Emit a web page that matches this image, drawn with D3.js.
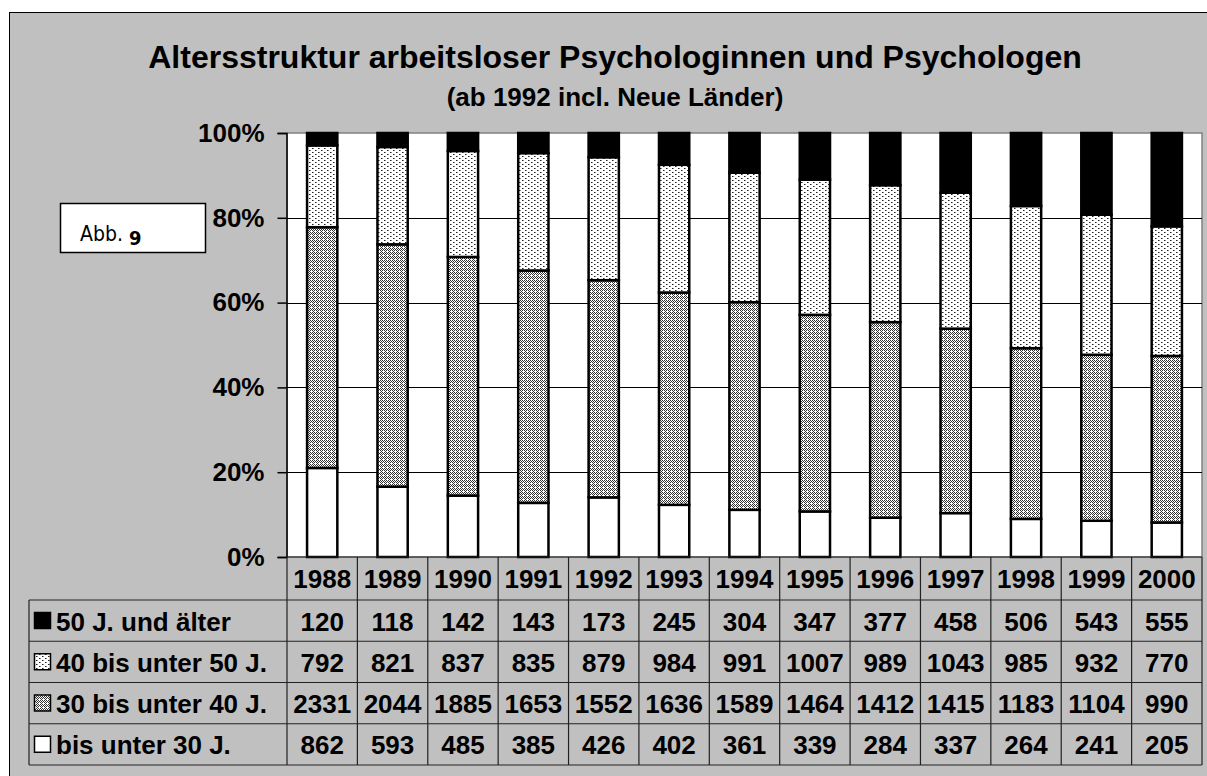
<!DOCTYPE html>
<html>
<head>
<meta charset="utf-8">
<script src="https://cdn.jsdelivr.net/npm/d3@7"></script>
<style>
  html, body { margin: 0; padding: 0; background: #fff; }
  svg { display: block; font-family: "Liberation Sans", Arial, sans-serif; }
</style>
</head>
<body>
<svg id="chart" width="1207" height="776"></svg>
<script>
// ---- data ----
var years = ['1988','1989','1990','1991','1992','1993','1994','1995','1996','1997','1998','1999','2000'];
var seriesNames = ['bis unter 30 J.', '30 bis unter 40 J.', '40 bis unter 50 J.', '50 J. und älter'];
var under30   = [862, 593, 485, 385, 426, 402, 361, 339, 284, 337, 264, 241, 205];
var age30to40 = [2331, 2044, 1885, 1653, 1552, 1636, 1589, 1464, 1412, 1415, 1183, 1104, 990];
var age40to50 = [792, 821, 837, 835, 879, 984, 991, 1007, 989, 1043, 985, 932, 770];
var age50plus = [120, 118, 142, 143, 173, 245, 304, 347, 377, 458, 506, 543, 555];
var yTicks = [0, 0.2, 0.4, 0.6, 0.8, 1];
var titleText = 'Altersstruktur arbeitsloser Psychologinnen und Psychologen';
var subtitleText = '(ab 1992 incl. Neue Länder)';

(function () {
  'use strict';

  var svg = d3.select('#chart');
  var seriesValues = [under30, age30to40, age40to50, age50plus];
  var fills = ['#fff', 'url(#dense)', 'url(#light)', '#000'];

  /*====================================
  Patterns
  ======================================*/
  var defs = svg.append('defs');
  var light = defs.append('pattern').attr('id', 'light')
    .attr('patternUnits', 'userSpaceOnUse').attr('width', 6).attr('height', 4);
  light.append('rect').attr('width', 6).attr('height', 4).attr('fill', '#fff');
  [[0, 0], [3, 2], [1, 0], [4, 2]].forEach(function (p, i) {
    light.append('rect').attr('x', p[0]).attr('y', p[1]).attr('width', 1).attr('height', 1)
      .attr('fill', i < 2 ? '#222' : '#888');
  });
  var dense = defs.append('pattern').attr('id', 'dense')
    .attr('patternUnits', 'userSpaceOnUse').attr('width', 4).attr('height', 4);
  dense.append('rect').attr('width', 4).attr('height', 4).attr('fill', '#fff');
  [[0, 0], [2, 0], [1, 1], [3, 1], [0, 2], [2, 2], [1, 3]].forEach(function (p) {
    dense.append('rect').attr('x', p[0]).attr('y', p[1]).attr('width', 1).attr('height', 1).attr('fill', '#333');
  });

  /*====================================
  Frame + titles
  ======================================*/
  svg.append('rect').attr('x', 9.5).attr('y', 12.5).attr('width', 1220).attr('height', 780)
    .attr('fill', '#c0c0c0').attr('stroke', '#000').attr('stroke-width', 1);

  svg.append('text').attr('x', 615).attr('y', 68).attr('text-anchor', 'middle')
    .attr('font-size', 32).attr('font-weight', 'bold').text(titleText);
  svg.append('text').attr('x', 615).attr('y', 106).attr('text-anchor', 'middle')
    .attr('font-size', 26).attr('font-weight', 'bold').text(subtitleText);

  /*====================================
  Scales
  ======================================*/
  var left = 287, right = 1202, top = 133, bottom = 557;
  var x = d3.scaleBand().domain(years).range([left, right]).padding(0);
  var y = d3.scaleLinear().domain([0, 1]).range([bottom, top]);
  var barW = x.bandwidth() * 0.43;

  var rows = years.map(function (yr, i) {
    var r = { year: yr };
    seriesNames.forEach(function (s, k) { r[s] = seriesValues[k][i]; });
    return r;
  });
  var stacked = d3.stack().keys(seriesNames).offset(d3.stackOffsetExpand)(rows);

  // plot area
  svg.append('rect').attr('x', left).attr('y', top).attr('width', right - left).attr('height', bottom - top)
    .attr('fill', '#fff').attr('stroke', '#808080').attr('stroke-width', 1.5);

  // grid lines
  svg.append('g').selectAll('line').data(yTicks.filter(function (t) { return t > 0 && t < 1; }))
    .enter().append('line')
    .attr('x1', left).attr('x2', right)
    .attr('y1', function (d) { return Math.round(y(d)) + 0.5; })
    .attr('y2', function (d) { return Math.round(y(d)) + 0.5; })
    .attr('stroke', '#000').attr('stroke-width', 1);

  // y axis
  var yAxis = svg.append('g').attr('transform', 'translate(' + (left - 0.5) + ',0)')
    .call(d3.axisLeft(y).tickValues(yTicks).tickFormat(d3.format('.0%')).tickSize(9).tickPadding(13));
  yAxis.select('.domain').attr('stroke', '#000').attr('stroke-width', 1.5);
  yAxis.selectAll('.tick line').attr('stroke', '#000').attr('stroke-width', 1.5);
  yAxis.selectAll('text').attr('font-size', 26).attr('font-weight', 'bold')
    .attr('font-family', '"Liberation Sans", Arial, sans-serif').attr('fill', '#000');

  // bars
  svg.append('g').selectAll('g').data(stacked).enter().append('g')
    .attr('fill', function (d, i) { return fills[i]; })
    .selectAll('rect').data(function (d) { return d; }).enter().append('rect')
    .attr('x', function (d) { return x(d.data.year) + (x.bandwidth() - barW) / 2; })
    .attr('y', function (d) { return y(d[1]); })
    .attr('width', barW)
    .attr('height', function (d) { return y(d[0]) - y(d[1]); })
    .attr('stroke', '#000').attr('stroke-width', 2.5);

  /*====================================
  Data table
  ======================================*/
  var tableLeft = 29, headerBottom = 600, rowH = 41.25;
  var table = svg.append('g').attr('stroke', '#222').attr('stroke-width', 1.2);
  var order = [3, 2, 1, 0]; // top row first
  var lastY = headerBottom + rowH * order.length;

  // horizontal lines
  [bottom].concat(d3.range(order.length + 1).map(function (i) { return headerBottom + i * rowH; }))
    .forEach(function (ly, i) {
      table.append('line').attr('x1', i === 0 ? left : tableLeft).attr('x2', right)
        .attr('y1', ly).attr('y2', ly);
    });
  // vertical lines
  table.append('line').attr('x1', tableLeft).attr('x2', tableLeft).attr('y1', headerBottom).attr('y2', lastY);
  years.forEach(function (yr) {
    table.append('line').attr('x1', x(yr)).attr('x2', x(yr)).attr('y1', bottom).attr('y2', lastY);
  });
  table.append('line').attr('x1', right).attr('x2', right).attr('y1', bottom).attr('y2', lastY);

  var txt = svg.append('g').attr('font-size', 26).attr('font-weight', 'bold').attr('fill', '#000');
  txt.selectAll('.yr').data(years).enter().append('text')
    .attr('x', function (d) { return x(d) + x.bandwidth() / 2; })
    .attr('y', 588).attr('text-anchor', 'middle').text(function (d) { return d; });

  order.forEach(function (k, r) {
    var ry = headerBottom + r * rowH;
    txt.selectAll('.v' + k).data(seriesValues[k]).enter().append('text')
      .attr('x', function (d, i) { return x(years[i]) + x.bandwidth() / 2; })
      .attr('y', ry + 30.5).attr('text-anchor', 'middle').text(function (d) { return d; });
    svg.append('rect').attr('x', 34.5).attr('y', ry + 12.5).attr('width', 16).attr('height', 16)
      .attr('fill', fills[k]).attr('stroke', '#000').attr('stroke-width', 1.5);
    txt.append('text').attr('x', 56).attr('y', ry + 30.5).text(seriesNames[k]);
  });

  /*====================================
  Abb. box
  ======================================*/
  svg.append('rect').attr('x', 60.5).attr('y', 203.5).attr('width', 145).attr('height', 49)
    .attr('fill', '#fff').attr('stroke', '#000').attr('stroke-width', 1.5);
  var abb = svg.append('text').attr('x', 80).attr('y', 241)
    .attr('font-family', '"DejaVu Sans Condensed", "Open Sans", sans-serif').attr('font-size', 21).text('Abb. ');
  abb.append('tspan').attr('font-weight', 'bold').attr('font-size', 20).attr('dy', 4).text('9');
}());
</script>
</body>
</html>
